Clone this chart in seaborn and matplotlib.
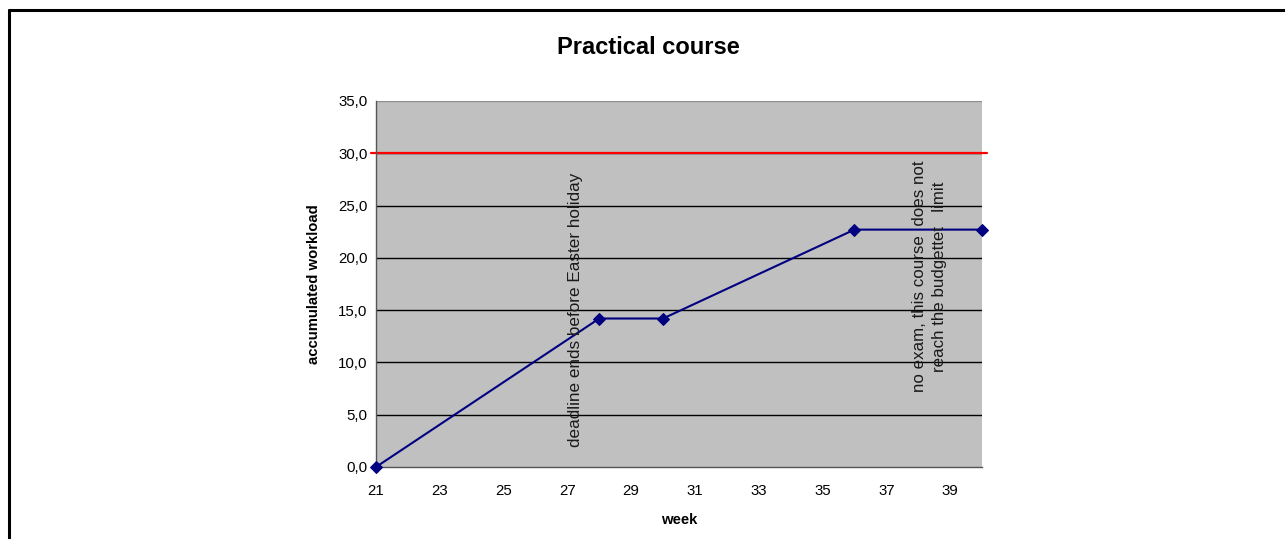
import matplotlib
matplotlib.use("Agg")
import matplotlib.pyplot as plt
import seaborn as sns
import pandas as pd
from matplotlib.lines import Line2D

# datos
weeks = [21, 28, 30, 36, 40]
workload = [0.0, 14.2, 14.2, 22.7, 22.7]
limit = 30.0
x_ticks = [21, 23, 25, 27, 29, 31, 33, 35, 37, 39]
y_ticks = [0, 5, 10, 15, 20, 25, 30, 35]
note_easter = "deadline ends before Easter holiday"
note_exam = "no exam, this course  does not\nreach the budgettet   limit"

df = pd.DataFrame({"week": weeks, "workload": workload})

sns.set_style("white")
plt.rcParams['font.family'] = ['Liberation Sans', 'DejaVu Sans']
plt.rcParams['text.color'] = 'black'
plt.rcParams['axes.labelcolor'] = 'black'

fig = plt.figure(figsize=(12.85, 5.39), dpi=100)
ax = fig.add_axes([376 / 1285, 1 - 467 / 539, 606 / 1285, 366 / 539])
ax.set_facecolor("#C0C0C0")

# lineas de la grilla
for y in y_ticks[1:-1]:
    ax.axhline(y, color="black", lw=1, zorder=1)
ax.axhline(35, color="#909090", lw=1, zorder=1)

# limite de presupuesto
ax.axhline(limit, xmin=-0.008, xmax=1.008, color="#FF0000", lw=1.6, zorder=2, clip_on=False)

sns.lineplot(data=df, x="week", y="workload", ax=ax, color="#000080", lw=1.5,
             marker="D", markersize=6, markeredgecolor="#000080", zorder=3, clip_on=False)

ax.set_xlim(21, 40)
ax.set_ylim(0, 35)
ax.set_xticks(x_ticks)
ax.set_yticks(y_ticks)
ax.set_yticklabels([f"{v:.1f}".replace(".", ",") for v in y_ticks])
ax.tick_params(axis="both", labelsize=10.8, direction="out", length=4, width=1,
               colors="#555555", labelcolor="black")
ax.tick_params(axis="x", pad=8)
ax.tick_params(axis="y", pad=2)

for s in ["top", "right"]:
    ax.spines[s].set_visible(False)
for s in ["left", "bottom"]:
    ax.spines[s].set_color("#555555")
    ax.spines[s].set_linewidth(1)

ax.set_xlabel("week", fontsize=10.7, fontweight="bold", labelpad=11)
ax.set_ylabel("accumulated workload", fontsize=10.7, fontweight="bold", labelpad=12)

ax.text(27.24, 1.9, note_easter, rotation=90, fontsize=12.3, color="#1a1a1a",
        ha="center", va="bottom", zorder=4)
ax.text(38.36, 18.2, note_exam, rotation=90, fontsize=12.2, color="#1a1a1a",
        ha="center", va="center", multialignment="center", linespacing=1.45, zorder=4)

fig.suptitle("Practical course", x=648 / 1285, y=1 - 47 / 539, va="center",
             fontsize=17, fontweight="bold", color="black")

# marco de la figura
fig.add_artist(Line2D([9 / 1285, 1.0], [1 - 10 / 539, 1 - 10 / 539],
                      transform=fig.transFigure, color="black", lw=2.2))
fig.add_artist(Line2D([9 / 1285, 9 / 1285], [1 - 10 / 539, 0.0],
                      transform=fig.transFigure, color="black", lw=2.2))

fig.savefig("out.png", dpi=100, facecolor="white")
